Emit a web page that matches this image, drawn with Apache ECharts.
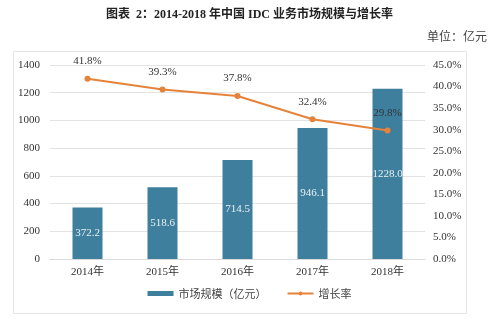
<!DOCTYPE html>
<html><head><meta charset="utf-8">
<script src="https://cdn.jsdelivr.net/npm/echarts@6/dist/echarts.min.js"></script>
<style>html,body{margin:0;padding:0;background:#fff}#c{width:499px;height:321px}</style>
</head><body><div id="c"></div>
<script>
const categories = ['2014年','2015年','2016年','2017年','2018年'];
const marketSize = [372.2, 518.6, 714.5, 946.1, 1228.0];
const growthRate = [41.8, 39.3, 37.8, 32.4, 29.8];
const leftTicks = [0, 200, 400, 600, 800, 1000, 1200, 1400];
const rightTicks = [0, 5, 10, 15, 20, 25, 30, 35, 40, 45];

const chart = echarts.init(document.getElementById('c'));
const serif = '"Liberation Serif","Noto Sans CJK SC",serif';
chart.setOption({
  animation: false,
  graphic: [
    {type:'rect', shape:{x:13.5,y:51.5,width:453,height:262}, style:{fill:'none', stroke:'#e4e4e4', lineWidth:1}},
    {type:'text', left:'center', top:9, style:{text:'图表  2：2014-2018 年中国 IDC 业务市场规模与增长率', font:'bold 12px "Liberation Serif","Noto Sans CJK SC",serif', fill:'#222'}},
    {type:'text', right:12, top:30, style:{text:'单位：亿元', font:'12px "Noto Sans CJK SC",sans-serif', fill:'#444'}}
  ],
  grid: {left: 50, right: 74, top: 65, bottom: 62},
  legend: {
    bottom: 17, left: 'center', itemGap: 20, itemWidth: 26, itemHeight: 5,
    textStyle: {fontSize: 11, color: '#444', fontFamily: '"Noto Sans CJK SC",sans-serif'},
    data: [{name:'市场规模（亿元）', icon:'rect'}, {name:'增长率'}]
  },
  xAxis: {
    type: 'category', data: categories,
    axisLine: {lineStyle:{color:'#d9d9d9'}}, axisTick: {show:false},
    axisLabel: {color:'#333', fontSize: 11, fontFamily: serif, margin: 8}
  },
  yAxis: [
    {type:'value', min:0, max:1400, interval:200,
     axisLine:{show:false}, axisTick:{show:false},
     splitLine:{lineStyle:{color:'#e3e3e3'}},
     axisLabel:{color:'#333', fontSize:11, fontFamily:serif, margin:10,
       formatter: v => String(v)}},
    {type:'value', min:0, max:45, interval:5,
     axisLine:{show:false}, axisTick:{show:false}, splitLine:{show:false},
     axisLabel:{color:'#333', fontSize:11, fontFamily:serif, margin:8,
       formatter: v => v.toFixed(1) + '%'}}
  ],
  series: [
    {name:'市场规模（亿元）', type:'bar', data: marketSize, barWidth: 30,
     itemStyle:{color:'#3f7f9e'},
     label:{show:true, position:'inside', color:'#e8f0f4', fontSize:11, fontFamily:serif,
       formatter: p => p.value.toFixed(1)}},
    {name:'增长率', type:'line', yAxisIndex:1, data: growthRate,
     symbol:'circle', symbolSize:6,
     lineStyle:{color:'#e5833a', width:2}, itemStyle:{color:'#e5833a'},
     label:{show:true, position:'top', distance:9, color:'#333', fontSize:11, fontFamily:serif,
       formatter: p => p.value.toFixed(1) + '%'}}
  ]
});
</script></body></html>
